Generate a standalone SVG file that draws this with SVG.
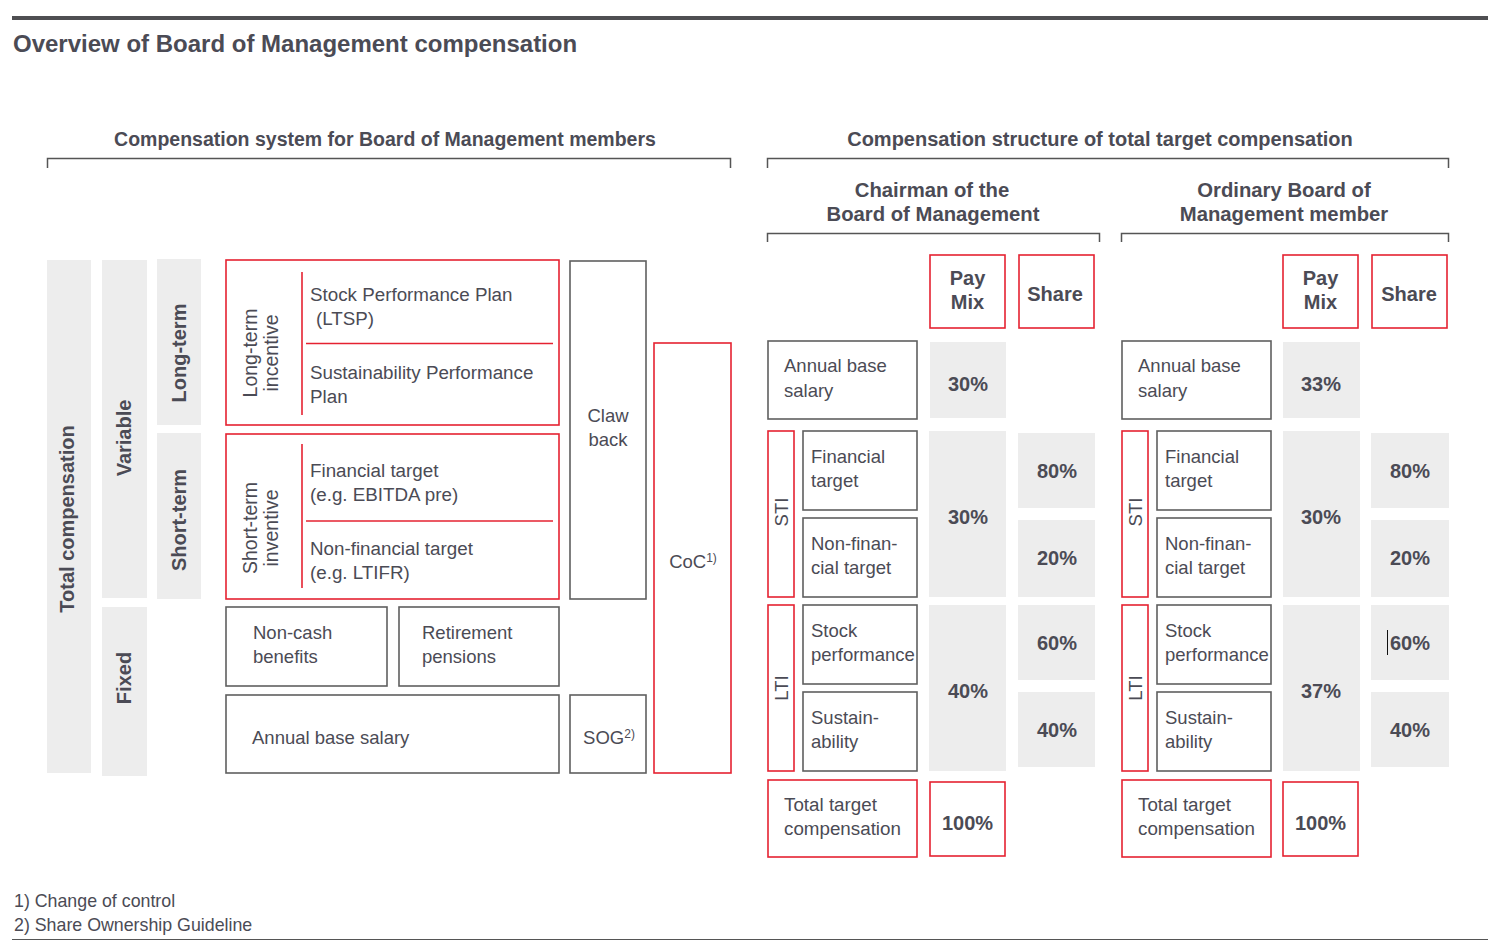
<svg xmlns="http://www.w3.org/2000/svg" width="1504" height="951" viewBox="0 0 1504 951">
<style>
text{font-family:"Liberation Sans",Arial,sans-serif;fill:#4b4b55}
.n{font-size:18.5px}
.b{font-weight:bold;font-size:20px}
.h{font-weight:bold;font-size:19.5px}
.c{text-anchor:middle}
.box{fill:#fff;stroke:#5f5f5f;stroke-width:1.6}
.red{fill:#fff;stroke:#e52231;stroke-width:1.6}
.rl{stroke:#e52231;stroke-width:1.6;fill:none}
.gray{fill:#ededed}
.ln{stroke:#555;stroke-width:1.5;fill:none}
</style>
<rect width="1504" height="951" fill="#fff"/>
<g id="frame">
<rect x="12" y="16" width="1476" height="4" fill="#4f4f52"/>
<text x="13" y="52" style="font-weight:bold;font-size:24px">Overview of Board of Management compensation</text>
<line x1="12" y1="939.5" x2="1488" y2="939.5" stroke="#555" stroke-width="1.2"/>
<text class="n" x="14" y="907" style="font-size:17.8px">1) Change of control</text>
<text class="n" x="14" y="931" style="font-size:17.8px">2) Share Ownership Guideline</text>
</g>
<g id="connectors">
<path class="ln" d="M47.5 168 V158.5 H730.5 V168"/>
<path class="ln" d="M767.5 168 V158.5 H1448.5 V168"/>
<path class="ln" d="M767.5 242 V233.5 H1099.5 V242"/>
<path class="ln" d="M1121.5 242 V233.5 H1448.5 V242"/>
</g>
<g id="headers">
<text class="h c" x="385" y="146">Compensation system for Board of Management members</text>
<text class="h c" x="1100" y="146" style="font-size:20px">Compensation structure of total target compensation</text>
<text class="h c" x="932" y="197" style="font-size:20.3px">Chairman of the</text>
<text class="h c" x="933" y="221" style="font-size:20.3px">Board of Management</text>
<text class="h c" x="1284" y="197" style="font-size:20.3px">Ordinary Board of</text>
<text class="h c" x="1284" y="221" style="font-size:20.3px">Management member</text>
</g>
<g id="total-compensation">
<rect class="gray" x="47" y="260" width="44" height="513"/>
<text class="b c" transform="translate(74,519) rotate(-90)">Total compensation</text>
</g>
<g id="variable">
<rect class="gray" x="102" y="260" width="45" height="338"/>
<text class="b c" transform="translate(131,438) rotate(-90)">Variable</text>
</g>
<g id="fixed">
<rect class="gray" x="102" y="607" width="45" height="169"/>
<text class="b c" transform="translate(131,678) rotate(-90)">Fixed</text>
</g>
<g id="long-term">
<rect class="gray" x="157" y="259" width="44" height="166"/>
<text class="b c" transform="translate(186,353) rotate(-90)">Long-term</text>
</g>
<g id="short-term">
<rect class="gray" x="157" y="433" width="44" height="166"/>
<text class="b c" transform="translate(186,520) rotate(-90)">Short-term</text>
</g>
<g id="lti-box">
<rect class="red" x="226" y="260" width="333" height="165"/>
<line class="rl" x1="302" y1="272" x2="302" y2="415"/>
<line class="rl" x1="306" y1="343.5" x2="553" y2="343.5"/>
<text class="n c" transform="translate(257,353) rotate(-90)" style="font-size:19.5px">Long-term<tspan x="0" dy="21">incentive</tspan></text>
<text class="n" x="310" y="301" style="font-size:18.8px">Stock Performance Plan</text>
<text class="n" x="316" y="325" style="font-size:18.8px">(LTSP)</text>
<text class="n" x="310" y="379" style="font-size:18.8px">Sustainability Performance</text>
<text class="n" x="310" y="403" style="font-size:18.8px">Plan</text>
</g>
<g id="sti-box">
<rect class="red" x="226" y="434" width="333" height="165"/>
<line class="rl" x1="302" y1="444" x2="302" y2="588"/>
<line class="rl" x1="306" y1="521" x2="553" y2="521"/>
<text class="n c" transform="translate(257,528) rotate(-90)" style="font-size:19.5px">Short-term<tspan x="0" dy="21">inventive</tspan></text>
<text class="n" x="310" y="477" style="font-size:18.8px">Financial target</text>
<text class="n" x="310" y="501" style="font-size:18.8px">(e.g. EBITDA pre)</text>
<text class="n" x="310" y="555" style="font-size:18.8px">Non-financial target</text>
<text class="n" x="310" y="579" style="font-size:18.8px">(e.g. LTIFR)</text>
</g>
<g id="non-cash">
<rect class="box" x="226" y="607" width="161" height="79"/>
<text class="n" x="253" y="639">Non-cash</text>
<text class="n" x="253" y="663">benefits</text>
</g>
<g id="retirement">
<rect class="box" x="399" y="607" width="160" height="79"/>
<text class="n" x="422" y="639">Retirement</text>
<text class="n" x="422" y="663">pensions</text>
</g>
<g id="annual-base-left">
<rect class="box" x="226" y="695" width="333" height="78"/>
<text class="n" x="252" y="744">Annual base salary</text>
</g>
<g id="claw-back">
<rect class="box" x="570" y="261" width="76" height="338"/>
<text class="n c" x="608" y="422">Claw</text>
<text class="n c" x="608" y="446">back</text>
</g>
<g id="sog">
<rect class="box" x="570" y="695" width="76" height="78"/>
<text class="n c" x="609" y="744">SOG<tspan style="font-size:12px" dy="-6">2)</tspan></text>
</g>
<g id="coc">
<rect class="red" x="654" y="343" width="77" height="430"/>
<text class="n c" x="693" y="568">CoC<tspan style="font-size:12px" dy="-6">1)</tspan></text>
</g>

<g id="chairman">
<g id="ch-paymix-head"><rect class="red" x="930" y="255" width="75" height="73"/>
<text class="b c" x="967.5" y="285">Pay</text><text class="b c" x="967.5" y="309">Mix</text></g>
<g id="ch-share-head"><rect class="red" x="1019" y="255" width="75" height="73"/>
<text class="b c" x="1055" y="301">Share</text></g>
<g id="ch-annual"><rect class="box" x="768" y="341" width="149" height="78"/>
<text class="n" x="784" y="372">Annual base</text><text class="n" x="784" y="397">salary</text></g>
<g id="ch-annual-pm"><rect class="gray" x="930" y="342" width="76" height="76"/>
<text class="b c" x="968" y="391">30%</text></g>
<g id="ch-sti"><rect class="red" x="768" y="431" width="26" height="166"/>
<text class="n c" transform="translate(788,512) rotate(-90)">STI</text></g>
<g id="ch-fin"><rect class="box" x="803" y="431" width="114" height="79"/>
<text class="n" x="811" y="463">Financial</text><text class="n" x="811" y="487">target</text></g>
<g id="ch-nonfin"><rect class="box" x="803" y="518" width="114" height="79"/>
<text class="n" x="811" y="550">Non-finan-</text><text class="n" x="811" y="574">cial target</text></g>
<g id="ch-sti-pm"><rect class="gray" x="929" y="431" width="77" height="166"/>
<text class="b c" x="968" y="524">30%</text></g>
<g id="ch-sti-s1"><rect class="gray" x="1018" y="433" width="77" height="75"/>
<text class="b c" x="1057" y="478">80%</text></g>
<g id="ch-sti-s2"><rect class="gray" x="1018" y="520" width="77" height="77"/>
<text class="b c" x="1057" y="565">20%</text></g>
<g id="ch-lti"><rect class="red" x="768" y="605" width="26" height="166"/>
<text class="n c" transform="translate(788,688) rotate(-90)">LTI</text></g>
<g id="ch-stock"><rect class="box" x="803" y="605" width="114" height="79"/>
<text class="n" x="811" y="637">Stock</text><text class="n" x="811" y="661">performance</text></g>
<g id="ch-sust"><rect class="box" x="803" y="692" width="114" height="79"/>
<text class="n" x="811" y="724">Sustain-</text><text class="n" x="811" y="748">ability</text></g>
<g id="ch-lti-pm"><rect class="gray" x="929" y="605" width="77" height="166"/>
<text class="b c" x="968" y="698">40%</text></g>
<g id="ch-lti-s1"><rect class="gray" x="1018" y="605" width="77" height="75"/>
<text class="b c" x="1057" y="650">60%</text></g>
<g id="ch-lti-s2"><rect class="gray" x="1018" y="692" width="77" height="75"/>
<text class="b c" x="1057" y="737">40%</text></g>
<g id="ch-total"><rect class="red" x="768" y="780" width="149" height="77"/>
<text class="n" x="784" y="811" style="font-size:18.8px">Total target</text><text class="n" x="784" y="835" style="font-size:18.8px">compensation</text></g>
<g id="ch-total-pm"><rect class="red" x="930" y="782" width="75" height="74"/>
<text class="b c" x="967.5" y="830">100%</text></g>
</g>

<g id="ordinary">
<g id="or-paymix-head"><rect class="red" x="1283" y="255" width="75" height="73"/>
<text class="b c" x="1320.5" y="285">Pay</text><text class="b c" x="1320.5" y="309">Mix</text></g>
<g id="or-share-head"><rect class="red" x="1372" y="255" width="75" height="73"/>
<text class="b c" x="1409" y="301">Share</text></g>
<g id="or-annual"><rect class="box" x="1122" y="341" width="149" height="78"/>
<text class="n" x="1138" y="372">Annual base</text><text class="n" x="1138" y="397">salary</text></g>
<g id="or-annual-pm"><rect class="gray" x="1283" y="342" width="77" height="76"/>
<text class="b c" x="1321" y="391">33%</text></g>
<g id="or-sti"><rect class="red" x="1122" y="431" width="26" height="166"/>
<text class="n c" transform="translate(1142,512) rotate(-90)">STI</text></g>
<g id="or-fin"><rect class="box" x="1157" y="431" width="114" height="79"/>
<text class="n" x="1165" y="463">Financial</text><text class="n" x="1165" y="487">target</text></g>
<g id="or-nonfin"><rect class="box" x="1157" y="518" width="114" height="79"/>
<text class="n" x="1165" y="550">Non-finan-</text><text class="n" x="1165" y="574">cial target</text></g>
<g id="or-sti-pm"><rect class="gray" x="1283" y="431" width="77" height="166"/>
<text class="b c" x="1321" y="524">30%</text></g>
<g id="or-sti-s1"><rect class="gray" x="1371" y="433" width="78" height="75"/>
<text class="b c" x="1410" y="478">80%</text></g>
<g id="or-sti-s2"><rect class="gray" x="1371" y="520" width="78" height="77"/>
<text class="b c" x="1410" y="565">20%</text></g>
<g id="or-lti"><rect class="red" x="1122" y="605" width="26" height="166"/>
<text class="n c" transform="translate(1142,688) rotate(-90)">LTI</text></g>
<g id="or-stock"><rect class="box" x="1157" y="605" width="114" height="79"/>
<text class="n" x="1165" y="637">Stock</text><text class="n" x="1165" y="661">performance</text></g>
<g id="or-sust"><rect class="box" x="1157" y="692" width="114" height="79"/>
<text class="n" x="1165" y="724">Sustain-</text><text class="n" x="1165" y="748">ability</text></g>
<g id="or-lti-pm"><rect class="gray" x="1283" y="605" width="77" height="166"/>
<text class="b c" x="1321" y="698">37%</text></g>
<g id="or-lti-s1"><rect class="gray" x="1371" y="605" width="78" height="75"/>
<line x1="1387.5" y1="630" x2="1387.5" y2="655" stroke="#111" stroke-width="1"/>
<text class="b c" x="1410" y="650">60%</text></g>
<g id="or-lti-s2"><rect class="gray" x="1371" y="692" width="78" height="75"/>
<text class="b c" x="1410" y="737">40%</text></g>
<g id="or-total"><rect class="red" x="1122" y="780" width="149" height="77"/>
<text class="n" x="1138" y="811" style="font-size:18.8px">Total target</text><text class="n" x="1138" y="835" style="font-size:18.8px">compensation</text></g>
<g id="or-total-pm"><rect class="red" x="1283" y="782" width="75" height="74"/>
<text class="b c" x="1320.5" y="830">100%</text></g>
</g>
</svg>
